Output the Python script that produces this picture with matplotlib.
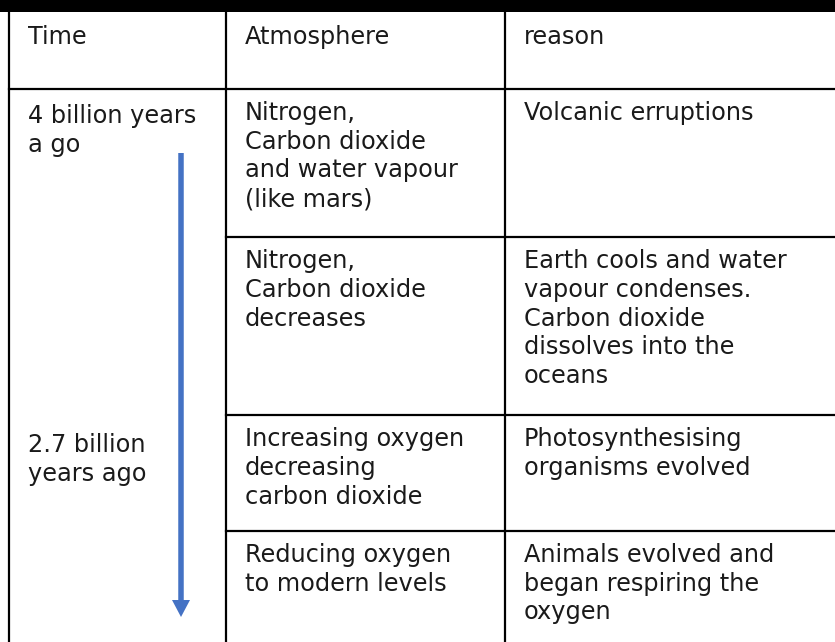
import matplotlib.pyplot as plt
from matplotlib.patches import FancyArrow

plt.rcParams['font.family'] = ['DejaVu Sans']

# table content
headers = ["Time", "Atmosphere", "reason"]
time_labels = ["4 billion years\na go", "", "2.7 billion\nyears ago", ""]
atmosphere = ["Nitrogen,\nCarbon dioxide\nand water vapour\n(like mars)",
              "Nitrogen,\nCarbon dioxide\ndecreases",
              "Increasing oxygen\ndecreasing\ncarbon dioxide",
              "Reducing oxygen\nto modern levels"]
reasons = ["Volcanic erruptions",
           "Earth cools and water\nvapour condenses.\nCarbon dioxide\ndissolves into the\noceans",
           "Photosynthesising\norganisms evolved",
           "Animals evolved and\nbegan respiring the\noxygen"]

# layout in pixels
W, H = 835, 642
col_x = [9, 226, 505]
row_y = [12, 89, 237, 415, 531]

fig = plt.figure(figsize=(W / 100, H / 100), dpi=100)
ax = fig.add_axes([0, 0, 1, 1])
ax.set_xlim(0, W)
ax.set_ylim(H, 0)
ax.axis('off')

# black band at the top
ax.fill_between([0, W], 0, row_y[0], color='black', lw=0)

lw = 1.6
for x in col_x:
    ax.plot([x, x], [row_y[0], H], color='black', lw=lw)
ax.plot([col_x[0], W], [row_y[1], row_y[1]], color='black', lw=lw)
for y in row_y[2:]:
    ax.plot([col_x[1], W], [y, y], color='black', lw=lw)

fs = 17.3
ls = 1.25
pad_x = 19
for x, h in zip(col_x, headers):
    ax.text(x + pad_x, row_y[0] + 13, h, fontsize=fs, va='top', ha='left', color='#1a1a1a')

time_y = [row_y[1], None, 418, None]
for i in range(4):
    top = row_y[i + 1]
    if time_labels[i]:
        ax.text(col_x[0] + pad_x, time_y[i] + 15, time_labels[i], fontsize=fs, va='top',
                ha='left', linespacing=ls, color='#1a1a1a')
    ax.text(col_x[1] + pad_x, top + 12, atmosphere[i], fontsize=fs, va='top', ha='left',
            linespacing=ls, color='#1a1a1a')
    ax.text(col_x[2] + pad_x, top + 12, reasons[i], fontsize=fs, va='top', ha='left',
            linespacing=ls, color='#1a1a1a')

# time arrow
ax.add_patch(FancyArrow(181, 153, 0, 464, width=5.5, head_width=18, head_length=17,
                        length_includes_head=True, color='#4472C4', lw=0))

fig.savefig('out.png', dpi=100)
